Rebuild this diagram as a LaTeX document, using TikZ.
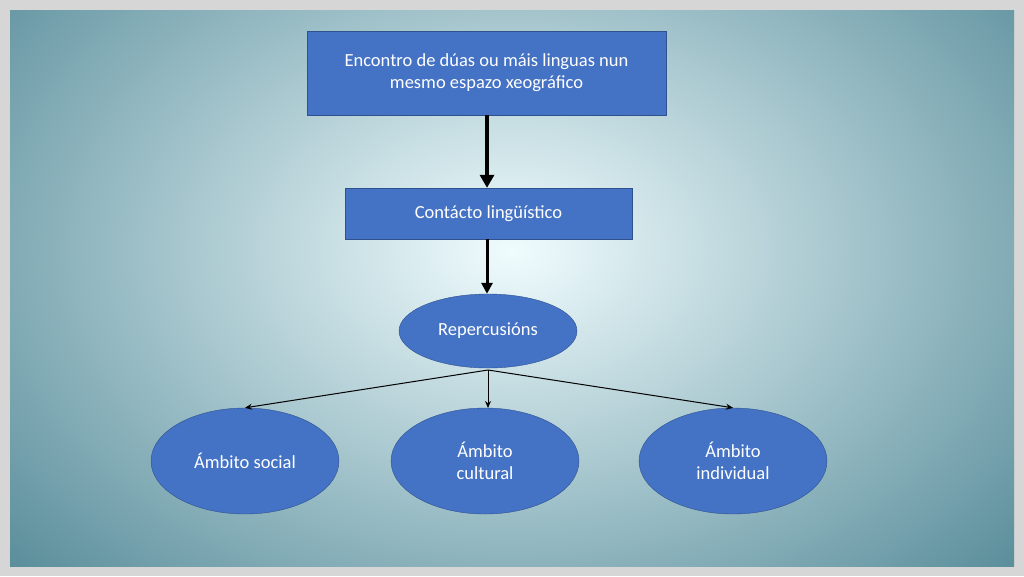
\documentclass[tikz,border=0pt]{standalone}
\usepackage{fontspec}
\setmainfont{Carlito}
\usetikzlibrary{shapes.geometric,arrows.meta}
\definecolor{boxfill}{HTML}{4472C4}
\definecolor{boxline}{HTML}{2F528F}
\definecolor{edge}{HTML}{5A8E9B}
\definecolor{centre}{HTML}{F0FCFE}
\definecolor{frame}{HTML}{D6D6D6}
\begin{document}
\begin{tikzpicture}[x=1pt,y=-1pt,
  rbox/.style={draw=boxline,fill=boxfill,text=white,font=\fontsize{18.5}{22}\selectfont,align=center,inner sep=0pt},
  ell/.style={ellipse,draw=boxline,fill=boxfill,text=white,font=\fontsize{18.5}{22}\selectfont,align=center,inner sep=0pt},
  thin/.style={-{Stealth[length=7pt,width=6pt]},line width=1pt}]
\useasboundingbox (0,0) rectangle (1024,576);
\fill[frame] (0,0) rectangle (1024,576);
\begin{scope}
\clip (10,10) rectangle (1014,566);
\fill[edge] (10,10) rectangle (1014,566);
\shade[inner color=centre,outer color=edge] (512,250) ellipse (680 and 470);
\end{scope}
\node[rbox,minimum width=359pt,minimum height=84pt] (top) at (486.5,73) {Encontro de dúas ou máis linguas nun\\mesmo espazo xeográfico};
\node[rbox,minimum width=287pt,minimum height=51pt] (cont) at (488.5,213.5) {Contácto lingüístico};
\node[ell,minimum width=178pt,minimum height=74pt] (rep) at (488,331) {Repercusións};
\node[ell,minimum width=188pt,minimum height=106pt] (soc) at (245,461) {Ámbito social};
\node[ell,minimum width=188pt,minimum height=106pt] (cul) at (485,461) {Ámbito\\cultural};
\node[ell,minimum width=188pt,minimum height=106pt] (ind) at (733,461) {Ámbito\\individual};
\draw[-{Triangle[length=13pt,width=14pt]},line width=4pt] (top.south -| 487,0) -- (cont.north -| 487,0);
\draw[-{Triangle[length=11pt,width=11pt]},line width=3pt] (cont.south -| 487,0) -- (rep.north -| 487,0);
\coordinate (br) at (488,370);
\draw[thin] (br) -- (soc.north);
\draw[thin] (br) -- (488,408);
\draw[thin] (br) -- (ind.north);
\end{tikzpicture}
\end{document}
